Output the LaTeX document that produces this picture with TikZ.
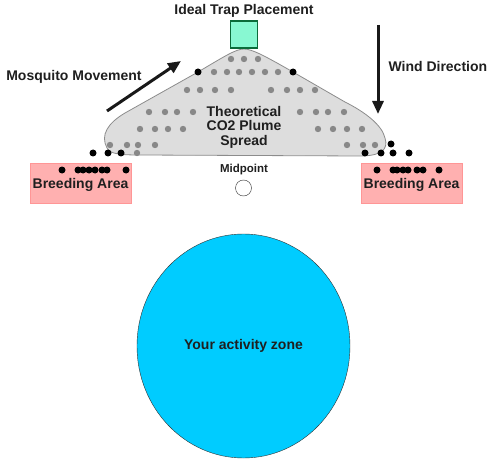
\documentclass[tikz,border=0pt]{standalone}
\usepackage{fontspec}
\setmainfont{Liberation Sans}
\usetikzlibrary{arrows.meta,shapes.geometric}

\definecolor{trapfill}{HTML}{88F8D2}
\definecolor{trapgreen}{HTML}{0B6B3A}
\definecolor{breedpink}{HTML}{FFB0B0}
\definecolor{plumegray}{HTML}{DDDDDD}
\definecolor{dotgray}{HTML}{888888}
\definecolor{zonecyan}{HTML}{00CCFF}

\begin{document}
\begin{tikzpicture}[
      x=1pt, y=-1pt,
      every node/.style={font=\fontsize{14pt}{14.5pt}\selectfont\bfseries, text=black!88},
      trapbox/.style={draw=trapgreen, line width=1.5pt, fill=trapfill, minimum size=27pt, inner sep=0pt},
      breedbox/.style={fill=breedpink, draw=breedpink!85!red, minimum width=101pt, minimum height=40pt,
        inner sep=0pt, text depth=0pt},
      zone/.style={ellipse, draw=black!80, fill=zonecyan, minimum width=213pt, minimum height=224pt},
      midmark/.style={circle, draw=black!80, fill=white, minimum size=16pt, inner sep=0pt},
      plume/.style={draw=black!45, line width=0.8pt, fill=plumegray},
      graydot/.style={fill=dotgray},
      blackdot/.style={fill=black},
      flow/.style={->, line width=3pt, draw=black!90},
      >={Triangle[length=13pt,width=11pt]}
    ]
    \useasboundingbox (0,0) rectangle (488,460);

    % PLUME
    \draw[plume] (244,49) .. controls (236,49) and (225,56) .. (198,72) -- (125,113)
      .. controls (108,123) and (100,135) .. (107,148) .. controls (110,154) and (120,155) .. (140,155)
      -- (360,156) .. controls (380,156) and (389,150) .. (385,138)
      .. controls (382,125) and (365,112) .. (345,102) -- (293,72)
      .. controls (265,56) and (252,49) .. (244,49) -- cycle;

    % DOTS IN THE PLUME
    \foreach \x in {231,244,258} \fill[graydot] (\x,59) circle (3.2pt);
    \foreach \x in {214,227,239,252,265,278} \fill[graydot] (\x,72) circle (3.2pt);
    \foreach \x in {187,200,215,231,271,287,300,315} \fill[graydot] (\x,90) circle (3.2pt);
    \foreach \x in {149,165,177,193,300,316,328,344} \fill[graydot] (\x,112) circle (3.2pt);
    \foreach \x in {140,155,168,183,318,333,347,362} \fill[graydot] (\x,129) circle (3.2pt);
    \foreach \x in {110,127,138,155,347,363,375} \fill[graydot] (\x,145) circle (3.2pt);
    \fill[graydot] (137,153) circle (3.2pt);
    \foreach \x/\y in {198/72,293/72,93/153,108/153,121/153,391/144,365/153,381/153,393/153,409/153}
      \fill[blackdot] (\x,\y) circle (3.5pt);

    % NODOS
    \node[trapbox] (trap) at (244,34.5) {};
    \node (traplabel) at (244,11) {Ideal Trap Placement};
    \node[align=center] (plumelabel) at (244,127) {Theoretical\\CO2 Plume\\Spread};
    \node[breedbox] (breedL) at (80.5,183) {Breeding Area};
    \node[breedbox] (breedR) at (411.5,183) {Breeding Area};
    \node[font=\fontsize{11.5pt}{12pt}\selectfont\bfseries] (midlabel) at (244,170) {Midpoint};
    \node[midmark] (mid) at (243.5,188) {};
    \node[zone] (zone) at (243.5,346) {Your activity zone};
    \node (mosqlabel) at (74,77) {Mosquito Movement};
    \node[anchor=west] (windlabel) at (385,66) {Wind Direction};

    % DOTS IN THE BREEDING AREAS
    \foreach \x in {62,78,83,89,95,102,107,126} \fill[blackdot] (\x,170) circle (3.5pt);
    \foreach \x in {377,393,397,403,408,417,423,439} \fill[blackdot] (\x,170) circle (3.5pt);

    % FLECHAS
    \coordinate (mosqtail) at (107,111);
    \coordinate (mosqhead) at (181,61);
    \coordinate (windtail) at (378,25);
    \coordinate (windhead) at (378,114);
    \draw[flow] (mosqtail) -- (mosqhead);
    \draw[flow] (windtail) -- (windhead);
  \end{tikzpicture}
\end{document}
